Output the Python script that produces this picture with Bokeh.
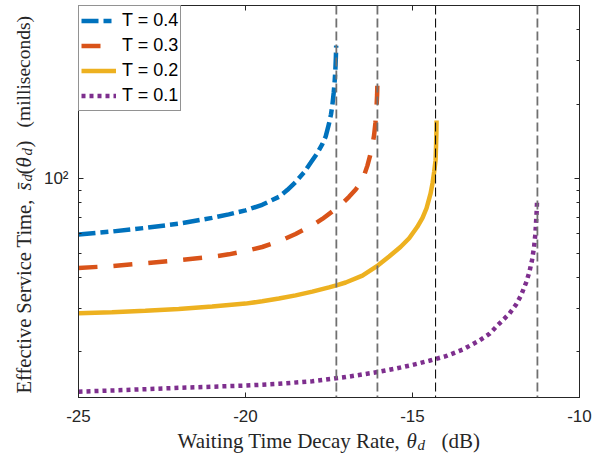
import math
from bokeh.plotting import figure
from bokeh.models import FixedTicker, LinearAxis, LogAxis, Span
from bokeh.core.properties import value
from bokeh.embed import file_html
from bokeh.resources import INLINE

# ---------------- data ----------------
x_ticks = [-25, -20, -15, -10]
x_tick_labels = ["-25", "-20", "-15", "-10"]
y_major = [100]
y_major_labels = ["10²"]
y_minor = [20, 30, 40, 50, 60, 70, 80, 90, 200, 300, 400]

series_names = ["T = 0.4", "T = 0.3", "T = 0.2", "T = 0.1"]

x_t04 = [-25, -24, -23, -22, -21, -20.5, -20, -19.5, -19, -18.75, -18.5, -18.25,
         -18.05, -17.85, -17.7, -17.6, -17.5, -17.44, -17.4, -17.36, -17.33,
         -17.31, -17.295, -17.285]
y_t04 = [59.5, 61.2, 63.3, 65.8, 69.5, 71.8, 74.5, 78.5, 84.5, 90, 97, 106,
         116, 127, 138, 148, 167, 182, 198, 222, 248,
         275, 308, 345]

x_t03 = [-25, -24, -23, -22, -21, -20.5, -20, -19.5, -19, -18.5, -18, -17.7,
         -17.4, -17.1, -16.9, -16.7, -16.55, -16.45, -16.35, -16.27, -16.2,
         -16.15, -16.11, -16.08, -16.06, -16.045]
y_t03 = [43.6, 44.4, 45.6, 46.9, 48.4, 49.5, 51, 53, 55.8, 59.8, 64.8, 68.8,
         73.8, 79.5, 84.5, 90.5, 96.5, 103, 113, 124, 137,
         150, 168, 190, 218, 262]

x_t02 = [-25, -24, -23, -22, -21, -20, -19.5, -19, -18.5, -18, -17.5, -17.28,
         -17, -16.5, -16.03, -15.7, -15.36, -15.1, -14.86, -14.7, -14.58,
         -14.46, -14.4, -14.35, -14.31, -14.295, -14.285, -14.28]
y_t02 = [28.6, 28.9, 29.3, 29.8, 30.5, 31.3, 32.0, 32.8, 33.8, 35.0, 36.4, 37.1,
         38.1, 40.6, 44.7, 48.5, 53, 57.5, 63.8, 69.5, 76,
         87, 96, 107, 118.6, 135, 152, 172]

x_t01 = [-25, -24, -23, -22, -21, -20, -19, -18, -17, -16, -15.5, -15, -14.5,
         -14, -13.5, -13, -12.7, -12.4, -12.1, -11.9, -11.75, -11.6, -11.5,
         -11.42, -11.36, -11.32, -11.3, -11.28, -11.27]
y_t01 = [13.8, 13.95, 14.12, 14.3, 14.45, 14.6, 14.85, 15.2, 15.8, 16.6, 17.1,
         17.7, 18.4, 19.2, 20.4, 22.2, 23.6, 26.0, 28.5, 31, 33.8, 38, 42,
         47, 53, 60, 67, 75, 82]

asymptotes = [-17.28, -16.05, -14.31, -11.26]

# ---------------- styles ----------------
colors = ["#0072BD", "#D95319", "#EDB120", "#7E2F8E"]
dashes = ["17 5 8 5", "19 16", "solid", "4 4"]
axis_color = "#262626"
X0, X1 = -25, -10
Y0, Y1 = 13.07, 501.0

W, H = 600, 456
FRAME_L, FRAME_R, FRAME_T, FRAME_B = 78, 579, 5, 397  # page px


def px_to_x(px):
    return X0 + (px - FRAME_L) * (X1 - X0) / (FRAME_R - FRAME_L)


def py_to_y(py):
    ly0, ly1 = math.log10(Y0), math.log10(Y1)
    return 10 ** (ly1 - (py - FRAME_T) * (ly1 - ly0) / (FRAME_B - FRAME_T))


p = figure(width=W, height=H, x_range=(X0, X1), y_range=(Y0, Y1),
           y_axis_type="log", output_backend="svg", toolbar_location=None,
           min_border_left=FRAME_L, min_border_right=W - FRAME_R,
           min_border_top=FRAME_T, min_border_bottom=H - FRAME_B)
p.grid.visible = False
p.outline_line_color = axis_color
p.background_fill_color = "white"
p.border_fill_color = "white"

x_over = {t: l for t, l in zip(x_ticks, x_tick_labels)}
y_over = {t: l for t, l in zip(y_major, y_major_labels)}


def style_axis(ax, labels=True):
    ax.axis_line_color = axis_color
    ax.major_tick_line_color = axis_color
    ax.minor_tick_line_color = axis_color
    ax.major_tick_in = 5
    ax.major_tick_out = 0
    ax.minor_tick_in = 3
    ax.minor_tick_out = 0
    ax.major_label_text_font = "Liberation Sans"
    if labels:
        ax.major_label_text_font_size = "17px"
        ax.major_label_text_color = axis_color
    else:
        ax.major_label_text_font_size = "1px"
        ax.major_label_text_color = None
        ax.major_label_standoff = 0


bx = p.xaxis[0]
bx.ticker = FixedTicker(ticks=x_ticks, minor_ticks=[])
bx.major_label_overrides = x_over
style_axis(bx)
bx.major_label_standoff = 12

ly = p.yaxis[0]
ly.ticker = FixedTicker(ticks=y_major, minor_ticks=y_minor)
ly.major_label_overrides = y_over
style_axis(ly)
ly.major_label_standoff = 10

tx = LinearAxis(ticker=FixedTicker(ticks=x_ticks, minor_ticks=[]))
style_axis(tx, labels=False)
p.add_layout(tx, "above")

ry = LogAxis(ticker=FixedTicker(ticks=y_major, minor_ticks=y_minor))
style_axis(ry, labels=False)
p.add_layout(ry, "right")

# vertical dashed asymptote lines
span_cols = ["#707070", "#707070", "#111111", "#707070"]
span_w = [1.8, 1.8, 1.1, 1.8]
for a, c, w in zip(asymptotes, span_cols, span_w):
    p.add_layout(Span(location=a, dimension="height", line_color=c,
                      line_width=w, line_dash="9 4"))

xs = [x_t04, x_t03, x_t02, x_t01]
ys = [y_t04, y_t03, y_t02, y_t01]
for x, y, c, d, n in zip(xs, ys, colors, dashes, series_names):
    p.line(x, y, line_color=c, line_width=4.5, line_dash=d, legend_label=n)

lg = p.legend[0]
lg.location = "top_left"
lg.margin = 0
lg.border_line_color = axis_color
lg.border_line_width = 1
lg.background_fill_alpha = 1
lg.padding = 2
lg.spacing = 0
lg.label_height = 25
lg.glyph_height = 25
lg.glyph_width = 35
lg.label_standoff = 6
lg.label_text_font = "Liberation Sans"
lg.label_text_font_size = "18px"
lg.label_text_color = "black"

# axis titles composed of pieces (serif, with subscripts), drawn as
# overlay-level text so they are not clipped to the frame
SERIF = "Liberation Serif"
FS = "21px"
FS_SUB = "15px"


def add_label(text, px, py, size=FS, style="normal", angle=0.0):
    p.text(x=[px_to_x(px)], y=[py_to_y(py)], text=[text],
           text_font=value(SERIF), text_font_size=value(size),
           text_font_style=value(style), text_color=axis_color,
           text_align=value("left"), text_baseline=value("alphabetic"),
           angle=angle, level="overlay")


# x label
XB = 440
add_label("Waiting Time Decay Rate,", 177, XB)
add_label("θ", 406, XB, style="italic")
add_label("d", 417, XB + 4, size=FS_SUB, style="italic")
add_label("(dB)", 441, XB)

# y label (rotated, reading upward)
A = math.pi / 2
BX = 23
add_label("Effective Service Time,", BX, 393, size="20.5px", angle=A)
add_label("s\u0304", BX, 190, style="italic", angle=A)
add_label("d", BX + 3, 181, size=FS_SUB, style="italic", angle=A)
add_label("(", BX, 174, angle=A)
add_label("θ", BX, 167, style="italic", angle=A)
add_label("d", BX + 3, 155, size=FS_SUB, style="italic", angle=A)
add_label(")", BX, 147, angle=A)
add_label("(milliseconds)", BX, 127, size="19.5px", angle=A)

open("out.html", "w").write(file_html(p, INLINE))
